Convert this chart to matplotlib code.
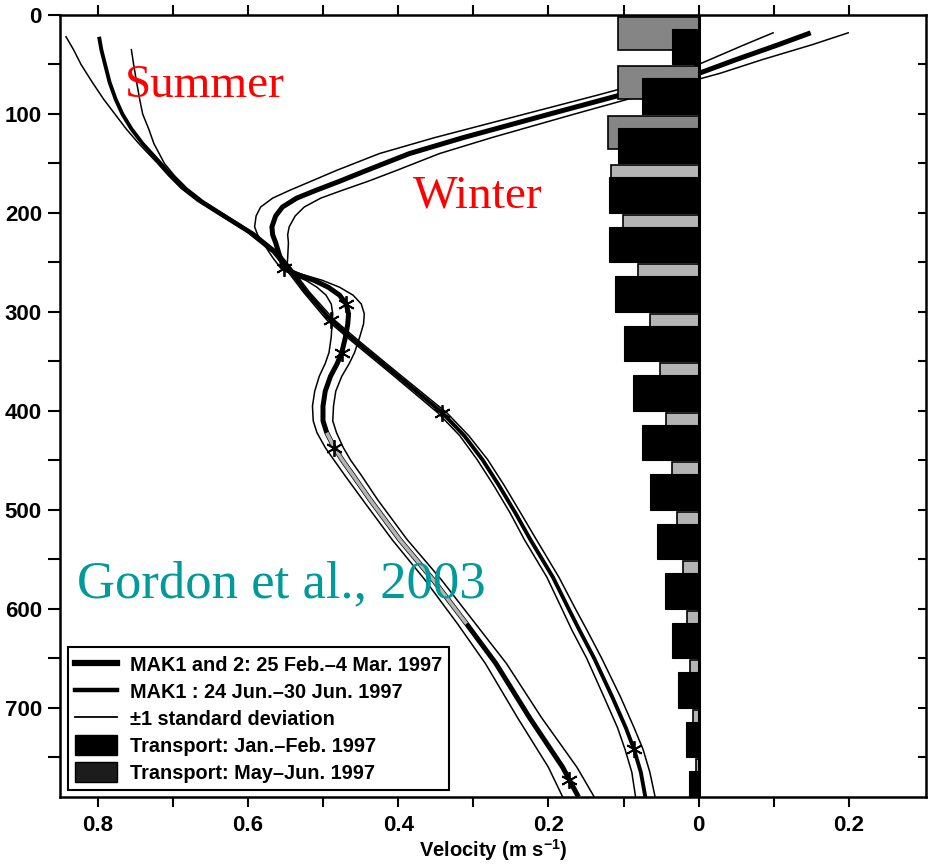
import numpy as np
import matplotlib
matplotlib.use("Agg")
import matplotlib.pyplot as plt
from matplotlib.lines import Line2D
from matplotlib.patches import Patch
from matplotlib.ticker import FixedLocator, FuncFormatter

# ---------------- data ----------------
# transport bars, 50 m bins (southward positive)
bin_top = [0, 50, 100, 150, 200, 250, 300, 350, 400, 450, 500, 550, 600, 650, 700, 750]
transport_janfeb = [0.035, 0.075, 0.107, 0.120, 0.120, 0.111, 0.099, 0.087,
                    0.075, 0.065, 0.055, 0.045, 0.035, 0.027, 0.017, 0.013]
transport_mayjun = [0.107, 0.108, 0.121, 0.117, 0.101, 0.081, 0.065, 0.051,
                    0.043, 0.036, 0.029, 0.021, 0.016, 0.011, 0.007, 0.004]

# summer profile (MAK1 24-30 Jun 1997), southward speed positive
summer_depth = [22, 35, 50, 68, 85, 100, 115, 130, 150, 162,
                175, 188, 200, 220, 240, 256, 280, 308, 330, 360,
                402, 425, 449, 475, 503, 530, 568, 600, 621, 650,
                689, 720, 742, 765, 790]
summer_vel = [0.798, 0.795, 0.790, 0.784, 0.776, 0.767, 0.755, 0.740, 0.716, 0.702,
              0.685, 0.663, 0.638, 0.596, 0.563, 0.546, 0.522, 0.490, 0.456, 0.408,
              0.341, 0.312, 0.288, 0.266, 0.244, 0.224, 0.194, 0.173, 0.159, 0.139,
              0.115, 0.097, 0.086, 0.077, 0.071]
summer_sd_hi = [0.044, 0.037, 0.032, 0.023, 0.016, 0.010, 0.007, 0.005, 0.004, 0.004,
                0.004, 0.004, 0.004, 0.004, 0.004, 0.004, 0.004, 0.005, 0.005, 0.005,
                0.006, 0.006, 0.007, 0.007, 0.007, 0.008, 0.008, 0.009, 0.010, 0.010,
                0.011, 0.011, 0.012, 0.012, 0.013]
summer_sd_lo = [np.nan, 0.040, 0.038, 0.036, 0.032, 0.027, 0.023, 0.015, 0.005, 0.004,
                0.004, 0.004, 0.004, 0.004, 0.004, 0.004, 0.004, 0.005, 0.005, 0.005,
                0.006, 0.006, 0.007, 0.007, 0.007, 0.008, 0.008, 0.009, 0.010, 0.010,
                0.011, 0.011, 0.012, 0.012, 0.013]

# winter profile (MAK1 and 2, 25 Feb - 4 Mar 1997)
winter_depth = [18, 30, 45, 59, 70, 81, 100, 124, 140, 157,
                168, 177, 185, 194, 203, 214, 222, 230, 245, 256,
                262, 268, 275, 283, 292, 302, 312, 325, 341, 352,
                365, 380, 395, 410, 422, 437, 450, 465, 490, 530,
                570, 615, 655, 710, 760, 790]
winter_vel = [-0.149, -0.106, -0.050, 0.000, 0.053, 0.105, 0.198, 0.314, 0.385, 0.442,
              0.478, 0.509, 0.535, 0.554, 0.563, 0.568, 0.567, 0.563, 0.557, 0.552,
              0.535, 0.512, 0.493, 0.478, 0.469, 0.466, 0.467, 0.470, 0.475, 0.481,
              0.490, 0.497, 0.500, 0.500, 0.495, 0.485, 0.474, 0.460, 0.437, 0.398,
              0.354, 0.309, 0.270, 0.225, 0.181, 0.160]
winter_sd = [0.050, 0.045, 0.035, 0.028, 0.028, 0.030, 0.033, 0.038, 0.040, 0.040,
             0.038, 0.035, 0.032, 0.029, 0.026, 0.023, 0.020, 0.017, 0.010, 0.004,
             0.007, 0.011, 0.015, 0.018, 0.020, 0.021, 0.021, 0.019, 0.017, 0.016,
             0.015, 0.014, 0.014, 0.013, 0.013, 0.012, 0.011, 0.011, 0.010, 0.010,
             0.011, 0.012, 0.014, 0.016, 0.019, 0.021]
winter_gray_from, winter_gray_to = 422, 615

summer_star_depth = [308, 402, 742]
summer_star_vel = [0.490, 0.341, 0.086]
winter_star_depth = [256, 292, 341, 437, 773]
winter_star_vel = [0.552, 0.469, 0.475, 0.485, 0.172]

x_ticks = [0.8, 0.7, 0.6, 0.5, 0.4, 0.3, 0.2, 0.1, 0.0, -0.1, -0.2]
legend_labels = ["MAK1 and 2: 25 Feb.\u20134 Mar. 1997",
                 "MAK1 : 24 Jun.\u201330 Jun. 1997",
                 "\u00b11 standard deviation",
                 "Transport: Jan.\u2013Feb. 1997",
                 "Transport: May\u2013Jun. 1997"]

# ---------------- style ----------------
plt.rcParams["font.family"] = ["Liberation Sans", "DejaVu Sans"]
plt.rcParams["font.weight"] = "bold"
plt.rcParams["mathtext.fontset"] = "custom"
plt.rcParams["mathtext.bf"] = "Liberation Sans:bold"
plt.rcParams["mathtext.rm"] = "Liberation Sans:bold"
plt.rcParams["mathtext.default"] = "bf"

fig = plt.figure(figsize=(9.33, 8.64), dpi=100)
ax = fig.add_axes([60 / 933, 67 / 864, 866 / 933, 782 / 864])

W_LW, S_LW, SD_LW = 3.6, 2.8, 1.1

# summer
sd = np.array(summer_depth, float)
sv = np.array(summer_vel)
ax.plot(sv + np.array(summer_sd_hi), sd, color="black", lw=SD_LW, zorder=2)
ax.plot(sv - np.array(summer_sd_lo), sd, color="black", lw=SD_LW, zorder=2)
ax.plot(sv, sd, color="black", lw=S_LW, zorder=2, solid_capstyle="butt",
        solid_joinstyle="round")

# winter
wd = np.array(winter_depth, float)
wv = np.array(winter_vel)
ws = np.array(winter_sd)
ax.plot(wv + ws, wd, color="black", lw=SD_LW, zorder=2)
ax.plot(wv - ws, wd, color="black", lw=SD_LW, zorder=2)
ax.plot(wv, wd, color="black", lw=W_LW, zorder=2, solid_capstyle="butt",
        solid_joinstyle="round")
m = (wd >= winter_gray_from) & (wd <= winter_gray_to)
ax.plot(wv[m], wd[m], color="#b4b4b4", lw=W_LW - 1.0, zorder=2.1,
        solid_capstyle="butt", solid_joinstyle="round")

# stars
star = (6, 2, 0)
ax.plot(summer_star_vel, summer_star_depth, ls="none", marker=star, ms=12,
        mec="black", mew=1.3, zorder=2.5)
ax.plot(winter_star_vel, winter_star_depth, ls="none", marker=star, ms=12,
        mec="black", mew=1.3, zorder=2.5)

# transport bars
bt = np.array(bin_top, float)
gray_cols = ["#858585" if b < 150 else "#b4b4b4" for b in bin_top]
ax.barh(bt + 2, transport_mayjun, height=33, align="edge", color=gray_cols,
        edgecolor="black", linewidth=1.2, zorder=3)
ax.barh(bt + 14, transport_janfeb, height=36, align="edge", color="black",
        edgecolor="black", linewidth=0.8, zorder=3.1)
ax.axvline(0, color="black", lw=2.2, zorder=3.2)

# axes
ax.set_xlim(0.85, -0.3025)
ax.set_ylim(790, 0)
ax.xaxis.set_major_locator(FixedLocator(x_ticks))


def xfmt(v, pos):
    k = int(round(v * 10))
    if k % 2:
        return ""
    return "0" if k == 0 else "%.1f" % abs(v)


ax.xaxis.set_major_formatter(FuncFormatter(xfmt))
ax.yaxis.set_major_locator(FixedLocator(np.arange(0, 701, 100)))
ax.yaxis.set_minor_locator(FixedLocator(np.arange(50, 790, 100)))
ax.tick_params(axis="x", which="both", direction="out", top=True, bottom=True,
               length=7, width=1.5, labelsize=16, pad=6)
ax.tick_params(axis="y", which="both", direction="out", left=True, right=False,
               length=9, width=1.5, labelsize=16, pad=4)
for lab in ax.get_xticklabels() + ax.get_yticklabels():
    lab.set_fontweight("bold")
for s in ax.spines.values():
    s.set_linewidth(1.8)
ax.set_xlabel(r"Velocity (m s$^{-1}$)", fontsize=14.5, fontweight="bold", labelpad=1)

ax2 = ax.twinx()
ax2.set_ylim(790, 0)
ax2.yaxis.set_major_locator(FixedLocator(np.arange(50, 790, 50)))
ax2.tick_params(axis="y", direction="in", length=6, width=1.5, labelright=False)
for s in ax2.spines.values():
    s.set_visible(False)

# annotations
ax.text(0.764, 83, "Summer", color="red", fontsize=34, family="Liberation Serif",
        fontweight="normal", ha="left", va="baseline", zorder=4)
ax.text(0.381, 194, "Winter", color="red", fontsize=34, family="Liberation Serif",
        fontweight="normal", ha="left", va="baseline", zorder=4)
ax.text(0.827, 588, "Gordon et al., 2003", color="#009a9a", fontsize=38,
        family="Liberation Serif", fontweight="normal", ha="left", va="baseline", zorder=4)

# legend
handles = [Line2D([], [], color="black", lw=4.5),
           Line2D([], [], color="black", lw=3.2),
           Line2D([], [], color="black", lw=1.3),
           Patch(facecolor="black", edgecolor="black"),
           Patch(facecolor="#1c1c1c", edgecolor="black")]
leg = ax.legend(handles, legend_labels, loc="lower left", bbox_to_anchor=(0.009, 0.009),
                borderaxespad=0, fancybox=False, framealpha=1, edgecolor="black",
                prop={"family": "Liberation Sans", "weight": "bold", "size": 14.3},
                handlelength=2.1, handleheight=1.15, handletextpad=0.65,
                labelspacing=0.32, borderpad=0.36)
leg.get_frame().set_linewidth(1.5)
leg.set_zorder(5)

fig.savefig("out.png", dpi=100)
